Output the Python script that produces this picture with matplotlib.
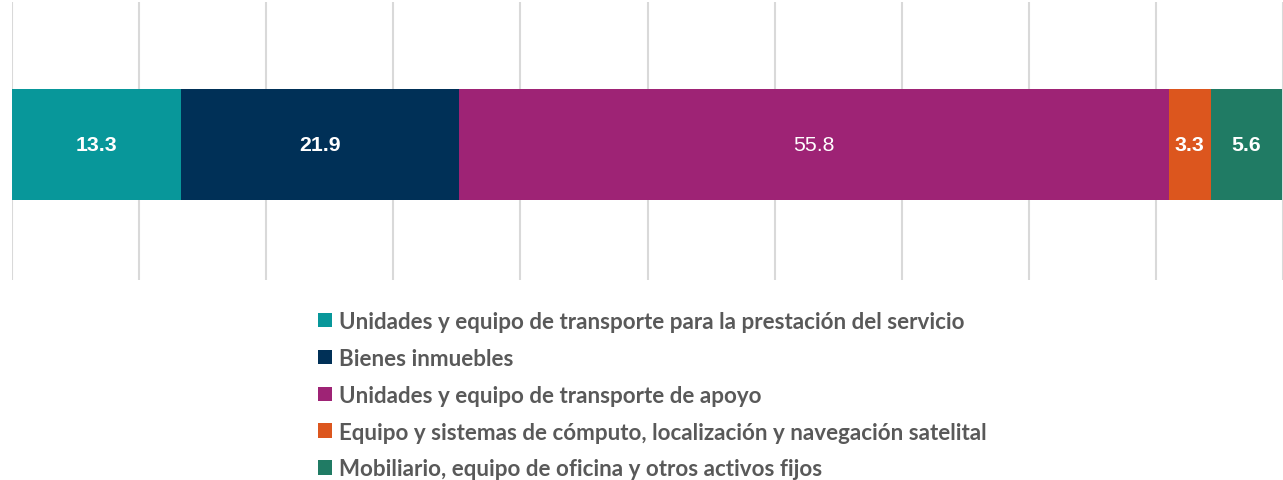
import matplotlib.pyplot as plt
from matplotlib.patches import Patch

categories = [
    'Unidades y equipo de transporte para la prestación del servicio',
    'Bienes inmuebles',
    'Unidades y equipo de transporte de apoyo',
    'Equipo y sistemas de cómputo, localización y navegación satelital',
    'Mobiliario, equipo de oficina y otros activos fijos',
]
values = [13.3, 21.9, 55.8, 3.3, 5.6]
colors = ['#08979a', '#003057', '#9e2375', '#dc561e', '#207b64']
label_bold = [True, True, False, True, True]

fig = plt.figure(figsize=(12.83, 4.81), dpi=100)
ax = fig.add_axes([12 / 1283, 1 - 281 / 481, 1 - 12 / 1283, 278 / 481])

left = 0
for val, col, bold in zip(values, colors, label_bold):
    ax.barh(0, val, left=left, height=0.4, color=col, zorder=2)
    ax.text(left + val / 2, 0, f'{val:.1f}', ha='center', va='center',
            color='white', fontsize=15.3, family='Liberation Sans',
            fontweight='bold' if bold else 'normal', zorder=3)
    left += val

ax.set_xlim(0, 100)
ax.set_ylim(-0.488, 0.512)
ax.set_xticks(range(0, 101, 10))
ax.grid(axis='x', color='#d9d9d9', linewidth=1.5, zorder=0)
ax.set_yticks([])
ax.tick_params(axis='x', length=0, labelbottom=False)
for s in ax.spines.values():
    s.set_visible(False)

handles = [Patch(facecolor=c) for c in colors]
leg = fig.legend(handles, categories, loc='upper left',
                 bbox_to_anchor=(309 / 1283, 1 - 303 / 481), frameon=False,
                 prop={'family': 'Lato', 'weight': 'bold', 'size': 16.1},
                 handlelength=0.62, handleheight=0.62, handletextpad=0.3,
                 labelspacing=0.71, borderaxespad=0)
for t in leg.get_texts():
    t.set_color('#595959')

fig.savefig('out.png', dpi=100, facecolor='white')
